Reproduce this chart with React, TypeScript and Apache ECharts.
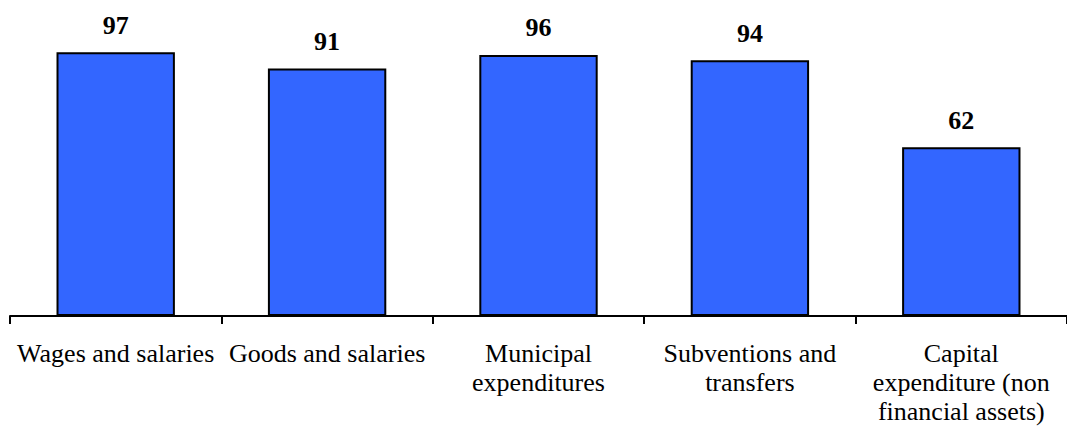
import React, { useEffect, useRef } from "react";
import * as echarts from "echarts";

const categories: string[] = [
  "Wages and salaries",
  "Goods and salaries",
  "Municipal\nexpenditures",
  "Subventions and\ntransfers",
  "Capital\nexpenditure (non\nfinancial assets)",
];
const values: number[] = [97, 91, 96, 94, 62];

const FONT = "'Liberation Serif', 'Times New Roman', serif";

export default function App() {
  const ref = useRef<HTMLDivElement>(null);
  useEffect(() => {
    if (!ref.current) return;
    const chart = echarts.init(ref.current, undefined, { renderer: "svg" });
    chart.setOption({
      animation: false,
      textStyle: { fontFamily: FONT },
      grid: { left: 10, top: 44, height: 272, width: 1062 },
      xAxis: {
        type: "category",
        data: categories,
        axisLine: { show: true, lineStyle: { color: "#000", width: 2 } },
        axisTick: { show: true, length: 8, lineStyle: { color: "#000", width: 2 } },
        axisLabel: {
          interval: 0,
          margin: 23,
          color: "#000",
          fontFamily: FONT,
          fontSize: 26,
          lineHeight: 29,
          align: "center",
        },
      },
      yAxis: {
        type: "value",
        min: 0,
        max: 100,
        show: false,
        splitLine: { show: false },
      },
      series: [
        {
          type: "bar",
          data: values,
          barWidth: "56%",
          itemStyle: { color: "#3366FF", borderColor: "#000", borderWidth: 2 },
          label: {
            show: true,
            position: "top",
            distance: 14,
            color: "#000",
            fontFamily: FONT,
            fontSize: 26,
            fontWeight: "bold",
          },
        },
      ],
    });
    return () => chart.dispose();
  }, []);
  return (
    <div
      ref={ref}
      style={{ position: "absolute", left: 0, top: 0, width: 1067, height: 432 }}
    />
  );
}
